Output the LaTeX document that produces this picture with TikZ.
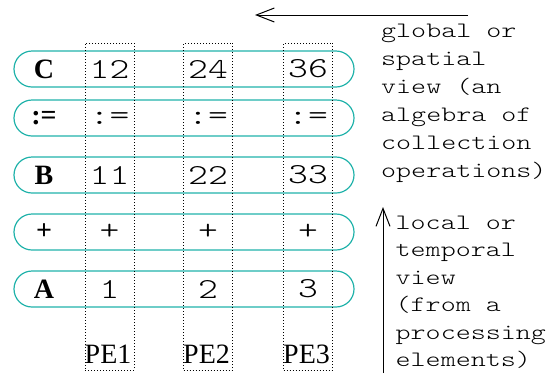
\documentclass[tikz,border=0pt]{standalone}
\usepackage{fontspec}
\setmainfont{Liberation Serif}
\setmonofont[FakeStretch=1.3]{Latin Modern Mono Light}
\usepackage{tikz}
\usetikzlibrary{arrows.meta}
\definecolor{rowteal}{RGB}{32,178,170}
\tikzset{
  rowbox/.style={draw=rowteal,line width=1.2pt,rounded corners=18pt,minimum width=340pt,minimum height=36pt,inner sep=0pt},
  pebox/.style={draw,dotted,line width=1pt,minimum width=49pt,minimum height=327pt,inner sep=0pt},
  oplabel/.style={font=\fontsize{28}{30}\selectfont\bfseries},
  cell/.style={font=\fontsize{29}{30}\selectfont\ttfamily},
  note/.style={font=\fontsize{22}{28}\selectfont\ttfamily,align=left,inner sep=0pt},
  view/.style={line width=1pt,-{Straight Barb[length=18pt,width=14pt]}}
}

\begin{document}
\begin{tikzpicture}[x=1pt,y=-1pt]
    \useasboundingbox (0,0) rectangle (559,373);
    % one row per collection
    \foreach \n/\y in {C/69,asgn/118,B/175,plus/232,A/289}
      \node[rowbox] (row\n) at (184,\y) {};
    % processing elements
    \foreach \i/\x in {1/109.5,2/208,3/308} {
      \node[pebox] (pe\i) at (\x,206.5) {};
      \node[anchor=base west,inner sep=0pt,font=\fontsize{28}{30}\selectfont] (pelabel\i) at ([yshift=7pt]pe\i.south west) {PE\i};
    }
    % row contents
    \foreach \n/\op/\a/\b/\c in {C/C/12/24/36,asgn/{:=}/{:=}/{:=}/{:=},B/B/11/22/33,plus/+/+/+/+,A/A/1/2/3} {
      \node[oplabel] (op\n) at ([xshift=-140pt]row\n.center) {\op};
      \node[cell] (\n1) at (pe1 |- row\n) {\a};
      \node[cell] (\n2) at (pe2 |- row\n) {\b};
      \node[cell] (\n3) at (pe3 |- row\n) {\c};
    }
    % the two views
    \coordinate (gtail) at (468,15);
    \coordinate (ghead) at (255,15);
    \draw[view] (gtail) -- (ghead);
    \node[note,anchor=north west] (global) at (381,23.5) {global or\\spatial\\view (an\\algebra of\\collection\\operations)};
    \coordinate (ltail) at (383,373);
    \coordinate (lhead) at (383,207);
    \draw[view] (ltail) -- (lhead);
    \node[note,anchor=north west,font=\fontsize{22}{27.5}\selectfont\ttfamily] (local) at (395.5,215.5) {local or\\temporal\\view\\(from a\\processing\\elements)};
  \end{tikzpicture}
\end{document}
